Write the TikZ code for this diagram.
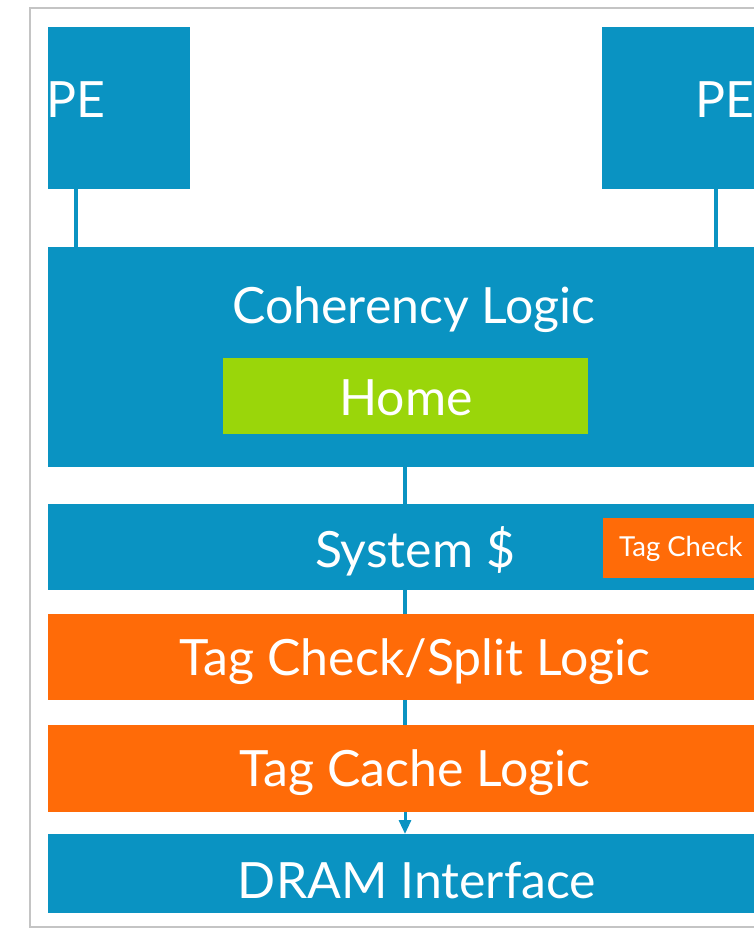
\documentclass[tikz,border=0pt]{standalone}
\usepackage{fontspec}
\setmainfont{Lato}
\usetikzlibrary{arrows.meta}
\definecolor{cblue}{HTML}{0A93C2}
\definecolor{corange}{HTML}{FF6B08}
\definecolor{cgreen}{HTML}{9AD60A}
\definecolor{cframe}{HTML}{C4C4C4}
\begin{document}
\begin{tikzpicture}[x=1pt,y=-1pt,
  box/.style={draw=none,inner sep=0pt,outer sep=0pt,anchor=north west},
  bluebox/.style={box,fill=cblue},
  orangebox/.style={box,fill=corange},
  greenbox/.style={box,fill=cgreen},
  lbl/.style={text=white,inner sep=0pt,anchor=base,font=\fontsize{50}{50}\selectfont},
  smalllbl/.style={text=white,inner sep=0pt,anchor=base west,font=\fontsize{27.5}{27.5}\selectfont},
  conn/.style={draw=cblue,line width=4.5pt}]
\useasboundingbox (0,0) rectangle (754,929);
\fill[white] (0,0) rectangle (754,929);
\draw[cframe,line width=1.5pt] (30,8) rectangle (780,927);
\begin{scope}
\clip (48,0) rectangle (754,929);
\node[bluebox,minimum width=142pt,minimum height=162pt] (pe1) at (48,27) {};
\node[bluebox,minimum width=170pt,minimum height=162pt] (pe2) at (602,27) {};
\node[bluebox,minimum width=720pt,minimum height=220pt] (coh) at (48,247) {};
\node[greenbox,minimum width=365pt,minimum height=76pt] (home) at (223,358) {};
\node[bluebox,minimum width=720pt,minimum height=86pt] (sys) at (48,504) {};
\node[orangebox,minimum width=170pt,minimum height=60pt] (tcsmall) at (603,518) {};
\node[orangebox,minimum width=720pt,minimum height=86pt] (split) at (48,614) {};
\node[orangebox,minimum width=720pt,minimum height=87pt] (cache) at (48,725) {};
\node[bluebox,minimum width=720pt,minimum height=79pt] (dram) at (48,834) {};
\node[lbl,anchor=base west] (pe1t) at (46,117) {PE};
\node[lbl,anchor=base west] (pe2t) at (695,117) {PE};
\node[lbl] (coht) at (414,323) {Coherency Logic};
\node[lbl] (homet) at (406,415) {Home};
\node[lbl] (syst) at (415,567) {System \$};
\node[smalllbl] (tcsmallt) at (619,556) {Tag Check};
\node[lbl] (splitt) at (415,675) {Tag Check/Split Logic};
\node[lbl] (cachet) at (415,786) {Tag Cache Logic};
\node[lbl] (dramt) at (417,898) {DRAM Interface};
\coordinate (c1) at (76,0);
\coordinate (c2) at (716,0);
\coordinate (cm) at (405,0);
\draw[conn] (pe1.south -| c1) -- (coh.north -| c1);
\draw[conn] (pe2.south -| c2) -- (coh.north -| c2);
\draw[conn] (coh.south -| cm) -- (sys.north -| cm);
\draw[conn] (sys.south -| cm) -- (split.north -| cm);
\draw[conn] (split.south -| cm) -- (cache.north -| cm);
\draw[conn,line width=3pt,-{Triangle[width=12pt,length=14pt]}] (cache.south -| cm) -- (dram.north -| cm);
\end{scope}
\end{tikzpicture}
\end{document}
